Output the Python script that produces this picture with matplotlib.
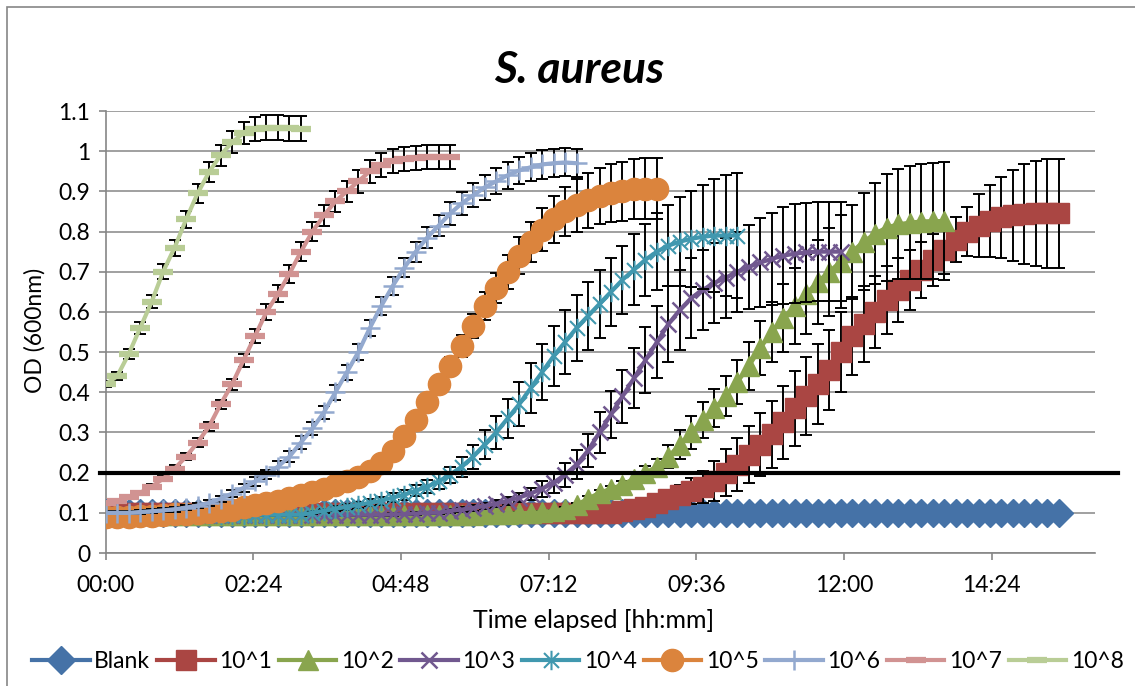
import matplotlib
matplotlib.use('Agg')
import matplotlib.pyplot as plt
import numpy as np
from matplotlib.path import Path
from matplotlib.patches import Rectangle

plt.rcParams['font.family'] = ['Lato', 'DejaVu Sans']

SAMPLE_MIN = 11.2   # minutes between plate reads
THRESHOLD = 0.2

series_labels = ['Blank', '10^1', '10^2', '10^3', '10^4', '10^5', '10^6', '10^7', '10^8']

# OD600 readings per dilution
od_blank = [
    0.10, 0.10, 0.10, 0.10, 0.10, 0.10, 0.10, 0.10, 0.10, 0.10, 0.10, 0.10,
    0.10, 0.10, 0.10, 0.10, 0.10, 0.10, 0.10, 0.10, 0.10, 0.10, 0.10, 0.10,
    0.10, 0.10, 0.10, 0.10, 0.10, 0.10, 0.10, 0.10, 0.10, 0.10, 0.10, 0.10,
    0.10, 0.10, 0.10, 0.10, 0.10, 0.10, 0.10, 0.10, 0.10, 0.10, 0.10, 0.10,
    0.10, 0.10, 0.10, 0.10, 0.10, 0.10, 0.10, 0.10, 0.10, 0.10, 0.10, 0.10,
    0.10, 0.10, 0.10, 0.10, 0.10, 0.10, 0.10, 0.10, 0.10, 0.10, 0.10, 0.10,
    0.10, 0.10, 0.10, 0.10, 0.10, 0.10, 0.10, 0.10, 0.10, 0.10, 0.10, 0.10,
]
od_1e1 = [
    0.10, 0.10, 0.10, 0.10, 0.10, 0.10, 0.10, 0.10, 0.10, 0.10, 0.10, 0.10,
    0.10, 0.10, 0.10, 0.10, 0.10, 0.10, 0.10, 0.10, 0.10, 0.10, 0.10, 0.10,
    0.10, 0.10, 0.10, 0.10, 0.10, 0.10, 0.10, 0.10, 0.10, 0.10, 0.10, 0.10,
    0.10, 0.10, 0.10, 0.10, 0.10, 0.10, 0.10, 0.10,
    0.10, 0.105, 0.11, 0.115, 0.125, 0.135, 0.145, 0.155, 0.165, 0.18, 0.20, 0.22,
    0.245, 0.27, 0.295, 0.325, 0.36, 0.39, 0.42, 0.455, 0.50, 0.54, 0.57, 0.60,
    0.63, 0.655, 0.68, 0.705, 0.73, 0.755, 0.78, 0.80, 0.815, 0.826, 0.835, 0.84,
    0.843, 0.845, 0.845, 0.845,
]
od_1e2 = [
    0.095, 0.095, 0.095, 0.095, 0.095, 0.095, 0.095, 0.095, 0.095, 0.095,
    0.095, 0.095, 0.095, 0.095, 0.095, 0.095, 0.095, 0.095, 0.095, 0.095,
    0.095, 0.095, 0.095, 0.095, 0.095, 0.095, 0.095, 0.095, 0.095, 0.095,
    0.095, 0.095, 0.095, 0.096, 0.097, 0.098, 0.099, 0.10, 0.102, 0.105,
    0.11, 0.12, 0.135, 0.15, 0.16, 0.17, 0.185, 0.20, 0.215, 0.24, 0.27, 0.30,
    0.33, 0.36, 0.39, 0.425, 0.465, 0.51, 0.55, 0.585, 0.615, 0.645, 0.675, 0.70,
    0.725, 0.75, 0.775, 0.795, 0.81, 0.818, 0.822, 0.825, 0.826, 0.826,
]
od_1e3 = [
    0.095, 0.095, 0.095, 0.095, 0.095, 0.095, 0.095, 0.095, 0.095, 0.095, 0.095, 0.095,
    0.095, 0.095, 0.095, 0.095, 0.095, 0.095, 0.095, 0.095, 0.095, 0.095, 0.095, 0.095,
    0.095, 0.096, 0.097, 0.098, 0.10, 0.10, 0.105, 0.108, 0.112, 0.117, 0.123, 0.13,
    0.138, 0.148, 0.16, 0.175, 0.195, 0.22, 0.255, 0.30, 0.345, 0.39, 0.435, 0.48,
    0.525, 0.57, 0.605, 0.635, 0.655, 0.672, 0.685, 0.70, 0.712, 0.723, 0.732, 0.74,
    0.745, 0.748, 0.75, 0.75, 0.75,
]
od_1e4 = [
    0.095, 0.095, 0.095, 0.095, 0.095, 0.095, 0.095, 0.095, 0.095, 0.095, 0.095, 0.095,
    0.095, 0.095, 0.095, 0.095, 0.095, 0.095,
    0.10, 0.105, 0.11, 0.115, 0.12, 0.125, 0.13, 0.138, 0.145, 0.155, 0.165, 0.178,
    0.195, 0.215, 0.24, 0.27, 0.30, 0.335, 0.37, 0.41, 0.45, 0.49, 0.525, 0.56,
    0.59, 0.62, 0.65, 0.68, 0.705, 0.73, 0.75, 0.765, 0.775, 0.782, 0.787, 0.79,
    0.79, 0.79,
]
od_1e5 = [
    0.09, 0.09, 0.09, 0.092, 0.093, 0.095, 0.097, 0.098, 0.10, 0.102, 0.105, 0.108,
    0.115, 0.12, 0.125, 0.13, 0.137, 0.145, 0.152, 0.16, 0.17, 0.18, 0.19, 0.205,
    0.225, 0.255, 0.29, 0.33, 0.375, 0.42, 0.465, 0.515, 0.565, 0.615, 0.66, 0.70,
    0.74, 0.775, 0.805, 0.83, 0.85, 0.865, 0.878, 0.888, 0.895, 0.90, 0.905, 0.907,
    0.907,
]
od_1e6 = [
    0.10, 0.10, 0.10, 0.102, 0.104, 0.106, 0.109, 0.113, 0.118, 0.125, 0.135, 0.148,
    0.162, 0.178, 0.195, 0.215, 0.24, 0.275, 0.31, 0.35, 0.40, 0.45, 0.50, 0.56,
    0.615, 0.665, 0.71, 0.75, 0.785, 0.815, 0.845, 0.87, 0.89, 0.91, 0.925, 0.94,
    0.952, 0.96, 0.967, 0.97, 0.972, 0.97,
]
od_1e7 = [
    0.125, 0.13, 0.14, 0.15, 0.165, 0.185, 0.21, 0.24, 0.275, 0.315, 0.37, 0.42,
    0.48, 0.54, 0.60, 0.645, 0.695, 0.75, 0.80, 0.84, 0.875, 0.90, 0.925, 0.95,
    0.965, 0.975, 0.98, 0.983, 0.985, 0.985, 0.985,
]
od_1e8 = [
    0.42, 0.44, 0.495, 0.56, 0.625, 0.70, 0.76, 0.83, 0.895, 0.948, 0.99, 1.022,
    1.045, 1.055, 1.058, 1.058, 1.057, 1.056,
]

# standard deviations (no error bars on the blank)
sd_1e1 = [
    0.003, 0.003, 0.003, 0.003, 0.003, 0.003, 0.003, 0.003, 0.003, 0.003, 0.003, 0.003,
    0.003, 0.003, 0.003, 0.003, 0.003, 0.003, 0.003, 0.003, 0.003, 0.003, 0.003, 0.003,
    0.003, 0.003, 0.003, 0.003, 0.003, 0.003, 0.003, 0.003, 0.003, 0.003, 0.003, 0.003,
    0.003, 0.003, 0.003, 0.003, 0.003, 0.003, 0.003, 0.003, 0.003, 0.003,
    0.005, 0.008, 0.012, 0.018, 0.025, 0.032, 0.04, 0.05, 0.058, 0.065, 0.072, 0.078,
    0.084, 0.09, 0.094, 0.097, 0.10, 0.10, 0.10, 0.098, 0.095, 0.09, 0.085, 0.08,
    0.075, 0.07, 0.065, 0.06, 0.055, 0.062, 0.079, 0.09, 0.10, 0.113, 0.125, 0.13,
    0.135, 0.135,
]
sd_1e2 = [
    0.003, 0.003, 0.003, 0.003, 0.003, 0.003, 0.003, 0.003, 0.003, 0.003,
    0.003, 0.003, 0.003, 0.003, 0.003, 0.003, 0.003, 0.003, 0.003, 0.003,
    0.003, 0.003, 0.003, 0.003, 0.003, 0.003, 0.003, 0.003, 0.003, 0.003,
    0.003, 0.003, 0.003, 0.003, 0.003, 0.003, 0.003, 0.003, 0.003, 0.003,
    0.004, 0.005, 0.006, 0.007, 0.007,
    0.008, 0.012, 0.016, 0.02, 0.028, 0.036, 0.042, 0.045, 0.047, 0.05, 0.055, 0.06,
    0.068, 0.075, 0.085, 0.095, 0.10, 0.105, 0.11,
    0.115, 0.117, 0.12, 0.125, 0.133, 0.137, 0.14, 0.142, 0.145, 0.146,
]
sd_1e3 = [
    0.003, 0.003, 0.003, 0.003, 0.003, 0.003, 0.003, 0.003, 0.003, 0.003,
    0.003, 0.003, 0.003, 0.003, 0.003, 0.003, 0.003, 0.003, 0.003, 0.003,
    0.003, 0.003, 0.003, 0.003, 0.003, 0.003, 0.003, 0.003, 0.003, 0.003,
    0.005, 0.006, 0.007, 0.008, 0.009, 0.01,
    0.012, 0.015, 0.02, 0.025, 0.03, 0.036, 0.042, 0.05, 0.058, 0.066, 0.074, 0.082,
    0.09, 0.095, 0.10, 0.10, 0.10, 0.10, 0.10, 0.10, 0.105, 0.11, 0.115, 0.12,
    0.123, 0.123, 0.123, 0.123, 0.123,
]
sd_1e4 = [
    0.003, 0.003, 0.003, 0.003, 0.003, 0.003, 0.003, 0.003, 0.003, 0.003,
    0.003, 0.003, 0.003, 0.003, 0.003, 0.003, 0.003, 0.003,
    0.004, 0.005, 0.006, 0.007, 0.008, 0.009, 0.01, 0.011, 0.012, 0.014, 0.016, 0.018,
    0.02, 0.025, 0.03, 0.035, 0.04, 0.048, 0.055, 0.062, 0.07, 0.075, 0.08, 0.082,
    0.084, 0.085, 0.085, 0.085, 0.088, 0.09, 0.095, 0.10, 0.11, 0.12, 0.13, 0.14,
    0.15, 0.155,
]
sd_1e5 = [
    0.003, 0.003, 0.003, 0.003, 0.003, 0.004, 0.004, 0.004, 0.004, 0.005, 0.005, 0.005,
    0.006, 0.006, 0.006, 0.007, 0.007, 0.008, 0.008, 0.009, 0.009, 0.01, 0.011, 0.012,
    0.013, 0.014, 0.015, 0.017, 0.019, 0.021, 0.024, 0.027, 0.03, 0.034, 0.038, 0.042,
    0.046, 0.05, 0.054, 0.058, 0.062, 0.065, 0.068, 0.07, 0.072, 0.074, 0.075, 0.075,
    0.075,
]
sd_1e6 = [
    0.004, 0.004, 0.004, 0.005, 0.005, 0.005, 0.006, 0.006, 0.007, 0.007, 0.008, 0.009,
    0.01, 0.011, 0.012, 0.013, 0.014, 0.015, 0.016, 0.017, 0.018, 0.019, 0.02, 0.021,
    0.022, 0.023, 0.024, 0.025, 0.026, 0.027, 0.028, 0.029, 0.03, 0.031, 0.032, 0.033,
    0.034, 0.035, 0.035, 0.035, 0.035, 0.035,
]
sd_1e7 = [
    0.004, 0.004, 0.005, 0.005, 0.006, 0.007, 0.008, 0.009, 0.01, 0.011, 0.012, 0.014,
    0.016, 0.018, 0.02, 0.021, 0.022, 0.023, 0.024, 0.025, 0.026, 0.027, 0.028, 0.029,
    0.03, 0.03, 0.03, 0.03, 0.03, 0.03, 0.03,
]
sd_1e8 = [
    0.008, 0.01, 0.012, 0.014, 0.016, 0.018, 0.02, 0.022, 0.024, 0.025, 0.026, 0.027,
    0.028, 0.03, 0.031, 0.031, 0.031, 0.031,
]

x_tick_minutes = [0, 144, 288, 432, 576, 720, 864]
x_tick_labels = ['00:00', '02:24', '04:48', '07:12', '09:36', '12:00', '14:24']
y_ticks = [0, 0.1, 0.2, 0.3, 0.4, 0.5, 0.6, 0.7, 0.8, 0.9, 1.0, 1.1]
y_tick_labels = ['0', '0.1', '0.2', '0.3', '0.4', '0.5', '0.6', '0.7', '0.8', '0.9', '1', '1.1']

od_series = [od_blank, od_1e1, od_1e2, od_1e3, od_1e4, od_1e5, od_1e6, od_1e7, od_1e8]
sd_series = [None, sd_1e1, sd_1e2, sd_1e3, sd_1e4, sd_1e5, sd_1e6, sd_1e7, sd_1e8]

colors = ['#4572A7', '#AA4643', '#89A54E', '#71588F', '#4198AF',
          '#DB843D', '#93A9CF', '#D19392', '#B9CD96']

# x with a vertical stroke through it
asterisk = Path([(-1, -1), (1, 1), (-1, 1), (1, -1), (0, -1.3), (0, 1.3)],
                [Path.MOVETO, Path.LINETO] * 3)

markers = ['D', 's', '^', 'x', asterisk, 'o', '+', '_', '_']
msizes = [14, 14, 15, 12, 14, 16, 14, 14, 14]
mews = [1, 1, 1, 1.8, 1.5, 1, 1.8, 4.5, 4.5]

grey = '#868686'
fs = 16.5

fig = plt.figure(figsize=(11.35, 6.86), dpi=100)
ax = fig.add_axes([105.7 / 1135, 1 - 553 / 686, (1095 - 105.7) / 1135, (553 - 111) / 686])

for i, (label, od, sd) in enumerate(zip(series_labels, od_series, sd_series)):
    t = np.arange(len(od)) * SAMPLE_MIN
    # error bars sit just below their own series' markers
    if sd is not None:
        ax.errorbar(t, od, yerr=sd, fmt='none', ecolor='black',
                    elinewidth=1.4, capsize=4, capthick=1.4, zorder=3 + 2 * i)
    ax.plot(t, od, color=colors[i], lw=3, marker=markers[i], ms=msizes[i],
            mew=mews[i], mec=colors[i], mfc=colors[i], label=label,
            zorder=4 + 2 * i)

# growth threshold
ax.plot([-5.5, 987], [THRESHOLD, THRESHOLD], color='black', lw=3,
        clip_on=False, zorder=30)

ax.set_xlim(0, 964.8)
ax.set_ylim(0, 1.1)
ax.set_xticks(x_tick_minutes)
ax.set_xticklabels(x_tick_labels)
ax.set_yticks(y_ticks)
ax.set_yticklabels(y_tick_labels)

ax.grid(True, axis='y', color=grey, lw=1.1, zorder=0)
ax.set_axisbelow(True)
for side in ['top', 'right']:
    ax.spines[side].set_visible(False)
for side in ['left', 'bottom']:
    ax.spines[side].set_color(grey)
    ax.spines[side].set_linewidth(1.2)
ax.tick_params(axis='both', colors=grey, labelcolor='black', labelsize=fs,
               length=5, width=1.2, direction='out')
ax.tick_params(axis='x', pad=11)
ax.tick_params(axis='y', pad=6)

fig.text(579 / 1135, 1 - 70 / 686, 'S. aureus', fontsize=32, fontweight='bold',
         fontstyle='italic', ha='center', va='center')
fig.text(594 / 1135, 1 - 621 / 686, 'Time elapsed [hh:mm]', fontsize=18,
         ha='center', va='center')
fig.text(35 / 1135, 1 - 330 / 686, 'OD (600nm)', fontsize=fs, rotation=90,
         ha='center', va='center')

fig.legend(loc='center', bbox_to_anchor=(578 / 1135, 1 - 662 / 686), ncol=9,
           frameon=False, fontsize=fs, handlelength=2.5, handletextpad=0.2,
           columnspacing=0.3, borderaxespad=0)

# chart frame
fig.add_artist(Rectangle((7 / 1135, -0.1), 1.2, 1 - 7 / 686 + 0.1,
                         transform=fig.transFigure, fill=False,
                         edgecolor=grey, lw=1.2))

fig.savefig('out.png', dpi=100)
